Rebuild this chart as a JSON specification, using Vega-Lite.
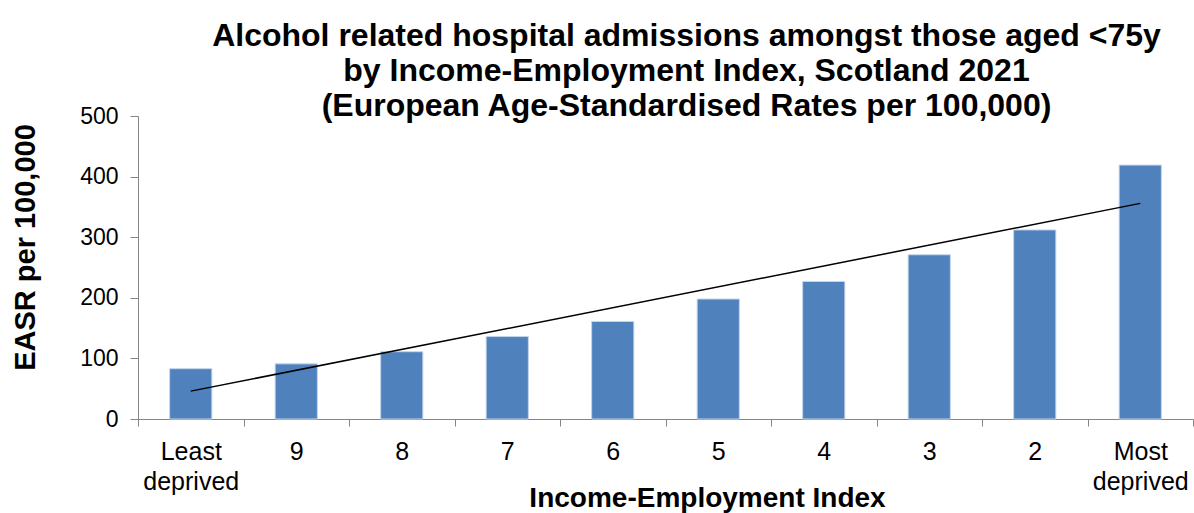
{
  "$schema": "https://vega.github.io/schema/vega-lite/v6.json",
  "autosize": "none",
  "width": 1055,
  "height": 303,
  "padding": {"left": 138, "top": 116, "right": 1, "bottom": 94},
  "background": "white",
  "datasets": {
    "bars": [
      {"index": "Least deprived", "easr": 83},
      {"index": "9", "easr": 91},
      {"index": "8", "easr": 111},
      {"index": "7", "easr": 136},
      {"index": "6", "easr": 161},
      {"index": "5", "easr": 198},
      {"index": "4", "easr": 227},
      {"index": "3", "easr": 271},
      {"index": "2", "easr": 312},
      {"index": "Most deprived", "easr": 419}
    ],
    "trend": [
      {"index": "Least deprived", "fit": 46.0},
      {"index": "Most deprived", "fit": 355.8}
    ]
  },
  "config": {
    "view": {"stroke": null},
    "font": "Liberation Sans"
  },
  "title": {
    "text": ["Alcohol related hospital admissions amongst those aged <75y", "by Income-Employment Index, Scotland 2021", "(European Age-Standardised Rates per 100,000)"],
    "font": "Liberation Sans",
    "fontSize": 32,
    "fontWeight": "bold",
    "color": "black",
    "anchor": "middle",
    "frame": "group",
    "dx": 21,
    "offset": -18,
    "lineHeight": 35
  },
  "layer": [
    {
      "data": {"name": "bars"},
      "mark": {"type": "bar", "width": {"band": 0.4}, "color": "#4F81BD", "stroke": "#c5d5ea", "strokeWidth": 1},
      "encoding": {
        "x": {
          "field": "index",
          "type": "nominal",
          "sort": ["Least deprived", "9", "8", "7", "6", "5", "4", "3", "2", "Most deprived"],
          "scale": {"paddingInner": 0, "paddingOuter": 0},
          "axis": {
            "title": "Income-Employment Index",
            "titleFont": "Liberation Sans",
            "titleFontSize": 28,
            "titleFontWeight": "bold",
            "titleColor": "black",
            "titleX": 569,
            "titleY": 79,
            "titleBaseline": "middle",
            "titleAlign": "center",
            "labelAngle": 0,
            "labelFont": "Liberation Sans",
            "labelFontSize": 25,
            "labelColor": "black",
            "labelPadding": 13,
            "labelLineHeight": 30,
            "labelExpr": "datum.value == 'Least deprived' ? ['Least', 'deprived'] : datum.value == 'Most deprived' ? ['Most', 'deprived'] : datum.value",
            "tickBand": "extent",
            "tickSize": 7,
            "tickColor": "#868686",
            "domainColor": "#868686",
            "labelOverlap": false
          }
        },
        "y": {
          "field": "easr",
          "type": "quantitative",
          "scale": {"domain": [0, 500], "nice": false},
          "axis": {
            "title": "EASR per 100,000",
            "titleFont": "Liberation Sans",
            "titleFontSize": 29,
            "titleFontWeight": "bold",
            "titleColor": "black",
            "titleX": -113,
            "titleY": 131,
            "titleBaseline": "middle",
            "titleAlign": "center",
            "values": [0, 100, 200, 300, 400, 500],
            "grid": false,
            "labelFont": "Liberation Sans",
            "labelFontSize": 23,
            "labelColor": "black",
            "labelPadding": 12,
            "tickSize": 8,
            "tickColor": "#868686",
            "domainColor": "#868686"
          }
        }
      }
    },
    {
      "data": {"name": "trend"},
      "mark": {"type": "line", "color": "black", "strokeWidth": 1.5},
      "encoding": {
        "x": {"field": "index", "type": "nominal", "sort": ["Least deprived", "9", "8", "7", "6", "5", "4", "3", "2", "Most deprived"]},
        "y": {"field": "fit", "type": "quantitative"}
      }
    }
  ]
}
